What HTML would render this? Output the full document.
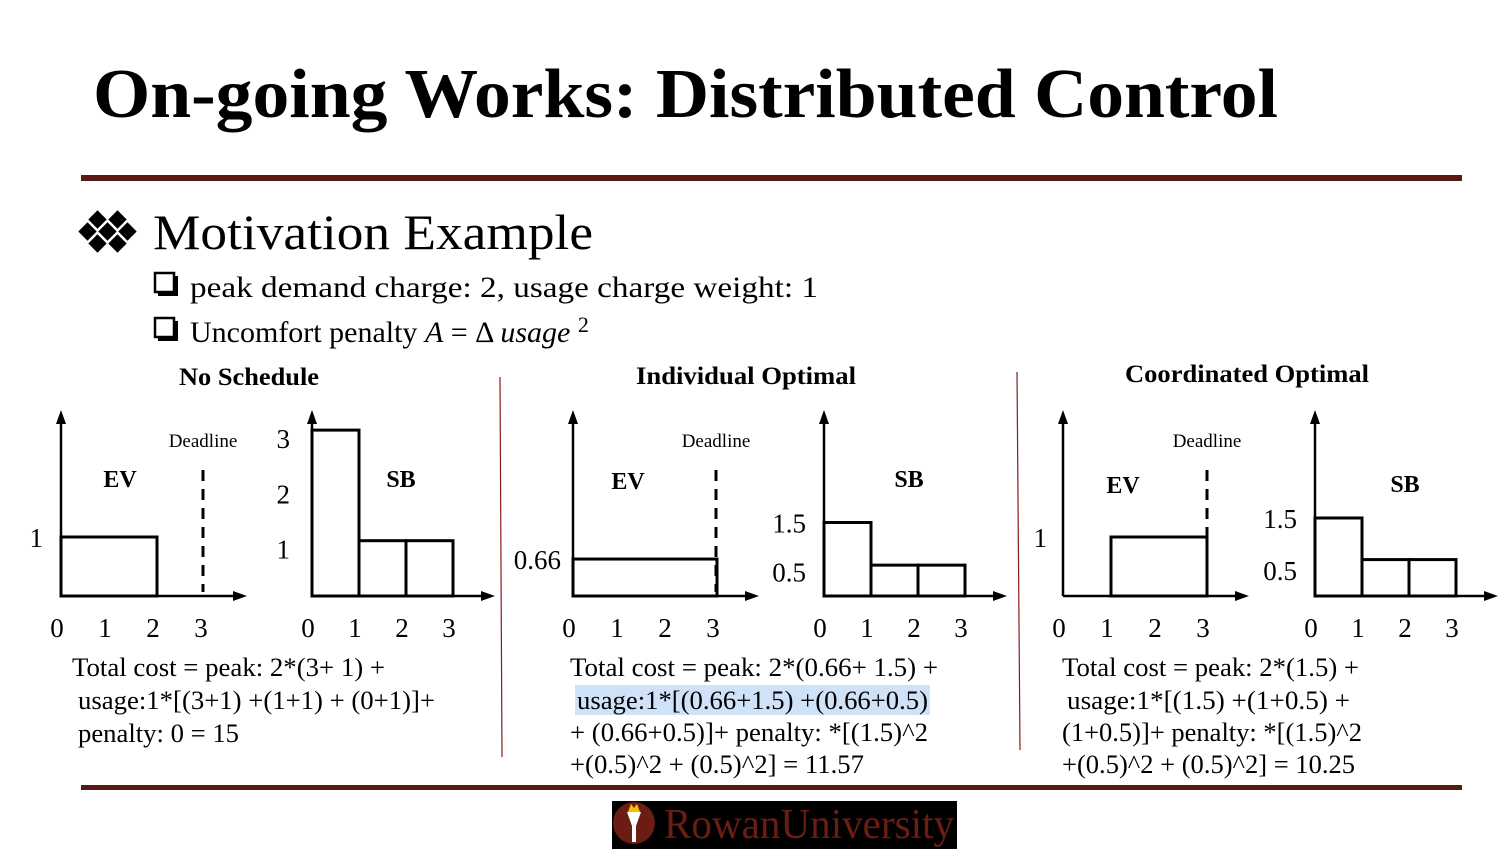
<!DOCTYPE html>
<html><head><meta charset="utf-8"><style>
html,body{margin:0;padding:0;background:#fff}
svg{display:block}
text{font-family:"Liberation Serif",serif;fill:#000}
</style></head><body>
<svg id="s" width="1501" height="850" viewBox="0 0 1501 850" xmlns="http://www.w3.org/2000/svg">
<text x="93" y="117" font-size="70" font-weight="bold" textLength="1185" lengthAdjust="spacingAndGlyphs">On-going Works: Distributed Control</text>
<rect x="81" y="175" width="1381" height="6" fill="#5a1a14"/>
<g fill="#000">
<rect x="91" y="213" width="13" height="13" transform="rotate(45 97.5 219.5)"/>
<rect x="111" y="213" width="13" height="13" transform="rotate(45 117.5 219.5)"/>
<rect x="81" y="225" width="13" height="13" transform="rotate(45 87.5 231.5)"/>
<rect x="101" y="225" width="13" height="13" transform="rotate(45 107.5 231.5)"/>
<rect x="121" y="225" width="13" height="13" transform="rotate(45 127.5 231.5)"/>
<rect x="91" y="237" width="13" height="13" transform="rotate(45 97.5 243.5)"/>
<rect x="111" y="237" width="13" height="13" transform="rotate(45 117.5 243.5)"/>
</g>
<text x="153" y="249" font-size="50" textLength="440" lengthAdjust="spacingAndGlyphs">Motivation Example</text>
<g>
<rect x="158" y="276" width="20" height="20" fill="#000"/>
<rect x="155" y="273" width="19" height="19" fill="#fff" stroke="#000" stroke-width="2.5"/>
</g>
<text x="190" y="297" font-size="30" textLength="628" lengthAdjust="spacingAndGlyphs">peak demand charge: 2, usage charge weight: 1</text>
<g>
<rect x="158" y="321" width="20" height="20" fill="#000"/>
<rect x="155" y="318" width="19" height="19" fill="#fff" stroke="#000" stroke-width="2.5"/>
</g>
<text x="190" y="342" font-size="30">Uncomfort penalty <tspan font-style="italic">A</tspan> = Δ <tspan font-style="italic">usage</tspan> <tspan font-size="22" dy="-10">2</tspan></text>

<text x="179" y="385" font-size="25" font-weight="bold" textLength="140" lengthAdjust="spacingAndGlyphs">No Schedule</text>
<text x="636" y="384" font-size="25" font-weight="bold" textLength="220" lengthAdjust="spacingAndGlyphs">Individual Optimal</text>
<text x="1125" y="382" font-size="25" font-weight="bold" textLength="244" lengthAdjust="spacingAndGlyphs">Coordinated Optimal</text>
<line x1="500" y1="377" x2="502" y2="757" stroke="#8b1a1a" stroke-width="1.2"/>
<line x1="1017" y1="372" x2="1020" y2="750" stroke="#8b1a1a" stroke-width="1.2"/>
<g id="charts"></g>

<g font-size="26">
<text x="72" y="676" textLength="313" lengthAdjust="spacingAndGlyphs">Total cost = peak: 2*(3+ 1) +</text>
<text x="78" y="709" textLength="357" lengthAdjust="spacingAndGlyphs">usage:1*[(3+1) +(1+1) + (0+1)]+</text>
<text x="78" y="742" textLength="161" lengthAdjust="spacingAndGlyphs">penalty: 0 = 15</text>
</g>
<rect x="575" y="685" width="355" height="30" fill="#cfe2f7"/>
<g font-size="26">
<text x="570" y="676" textLength="368" lengthAdjust="spacingAndGlyphs">Total cost = peak: 2*(0.66+ 1.5) +</text>
<text x="577" y="709" textLength="351" lengthAdjust="spacingAndGlyphs">usage:1*[(0.66+1.5) +(0.66+0.5)</text>
<text x="570" y="741" textLength="358" lengthAdjust="spacingAndGlyphs">+ (0.66+0.5)]+ penalty: *[(1.5)^2</text>
<text x="570" y="773" textLength="294" lengthAdjust="spacingAndGlyphs">+(0.5)^2 + (0.5)^2] = 11.57</text>
</g>
<g font-size="26">
<text x="1062" y="676" textLength="297" lengthAdjust="spacingAndGlyphs">Total cost = peak: 2*(1.5) +</text>
<text x="1067" y="709" textLength="283" lengthAdjust="spacingAndGlyphs">usage:1*[(1.5) +(1+0.5) +</text>
<text x="1062" y="741" textLength="300" lengthAdjust="spacingAndGlyphs">(1+0.5)]+ penalty: *[(1.5)^2</text>
<text x="1062" y="773" textLength="293" lengthAdjust="spacingAndGlyphs">+(0.5)^2 + (0.5)^2] = 10.25</text>
</g>
<rect x="81" y="785" width="1381" height="5" fill="#5a1a14"/>
<g>
<rect x="612" y="801" width="345" height="48" fill="#000"/>
<circle cx="634" cy="823" r="21" fill="#6b1d14"/>
<path d="M627 812 L641 812 L636 826 L636 842 L632 842 L632 826 Z" fill="#fff"/>
<path d="M628 812 L631 804 L634 808 L637 804 L640 812 Z" fill="#f2c200"/>
<text x="664" y="838" font-size="42" style="fill:#6b1d14" textLength="290" lengthAdjust="spacingAndGlyphs">RowanUniversity</text>
</g>
</svg>
<script>
// data per chart: bar start slot, bar end slot, bar value
const ev1Start=[0], ev1End=[2], ev1Val=[1];
const sb1Start=[0,1,2], sb1End=[1,2,3], sb1Val=[3,1,1];
const ev2Start=[0], ev2End=[3], ev2Val=[0.66];
const sb2Start=[0,1,2], sb2End=[1,2,3], sb2Val=[1.5,0.63,0.63];
const ev3Start=[1], ev3End=[3], ev3Val=[1];
const sb3Start=[0,1,2], sb3End=[1,2,3], sb3Val=[1.5,0.7,0.7];
const xTicks=["0","1","2","3"];
const ev1YLabels=["1"], ev1YVals=[1];
const sb1YLabels=["3","2","1"], sb1YVals=[3,2,1];
const ev2YLabels=["0.66"], ev2YVals=[0.66];
const sb2YLabels=["1.5","0.5"], sb2YVals=[1.5,0.5];
const ev3YLabels=["1"], ev3YVals=[1];
const sb3YLabels=["1.5","0.5"], sb3YVals=[1.5,0.5];
const NS="http://www.w3.org/2000/svg";
const root=document.getElementById('charts');
function mk(tag,attrs,parent){const e=document.createElementNS(NS,tag);for(const k in attrs)e.setAttribute(k,attrs[k]);parent.appendChild(e);return e;}
function chart(name,ox,oy,unit,yScale,starts,ends,vals,yl,yv,ylOff,label,lx,ly,deadline,dlx){
  const g=mk('g',{},root);
  
  
  const xs=v=>ox+v*unit, ys=v=>oy-v*yScale;
  const ya=mk('path',{d:`M${ox} ${oy} L${ox} 418`,stroke:'#000','stroke-width':2.5,fill:'none'},g);
  
  
  const yh=mk('path',{d:`M${ox-5} 424 L${ox} 410 L${ox+5} 424 Z`,fill:'#000'},g);
  
  
  const xa=mk('path',{d:`M${ox} ${oy} L${xs(3)+32} ${oy}`,stroke:'#000','stroke-width':2.5,fill:'none'},g);
  
  
  const xh=mk('path',{d:`M${xs(3)+28} ${oy-5} L${xs(3)+42} ${oy} L${xs(3)+28} ${oy+5} Z`,fill:'#000'},g);
  
  
  for(let i=0;i<starts.length;i++){
    const r=mk('rect',{x:xs(starts[i]),y:ys(vals[i]),width:xs(ends[i])-xs(starts[i]),height:ys(0)-ys(vals[i]),fill:'none',stroke:'#000','stroke-width':3},g);
    
    
  }
  xTicks.forEach((t,i)=>{const e=mk('text',{x:xs(i)-4,y:oy+41,'font-size':27,'text-anchor':'middle'},g);e.textContent=t;
    
    });
  yl.forEach((t,i)=>{const e=mk('text',{x:ox-ylOff,y:ys(yv[i])+(name.startsWith('sb1')?18:10),'font-size':27,'text-anchor':'end'},g);e.textContent=t;
    
    });
  const lb=mk('text',{x:lx,y:ly,'font-size':24,'font-weight':'bold','text-anchor':'middle'},g);lb.textContent=label;
  
  
  if(deadline){
    const d=mk('line',{x1:dlx,y1:470,x2:dlx,y2:592,stroke:'#000','stroke-width':3,'stroke-dasharray':'11 8'},g);
    
    
    const dt=mk('text',{x:dlx,y:447,'font-size':19,'text-anchor':'middle'},g);dt.textContent='Deadline';
    
    
  }
}
chart('ev1-chart',61,596,48,59,ev1Start,ev1End,ev1Val,ev1YLabels,ev1YVals,18,'EV',120,487,true,203);
chart('sb1-chart',312,596,47,55.3,sb1Start,sb1End,sb1Val,sb1YLabels,sb1YVals,22,'SB',401,487,false,0);
chart('ev2-chart',573,596,48,56,ev2Start,ev2End,ev2Val,ev2YLabels,ev2YVals,12,'EV',628,489,true,716);
chart('sb2-chart',824,596,47,49,sb2Start,sb2End,sb2Val,sb2YLabels,sb2YVals,18,'SB',909,487,false,0);
chart('ev3-chart',1063,596,48,59,ev3Start,ev3End,ev3Val,ev3YLabels,ev3YVals,16,'EV',1123,493,true,1207);
chart('sb3-chart',1315,596,47,52,sb3Start,sb3End,sb3Val,sb3YLabels,sb3YVals,18,'SB',1405,492,false,0);
</script>
</body></html>
